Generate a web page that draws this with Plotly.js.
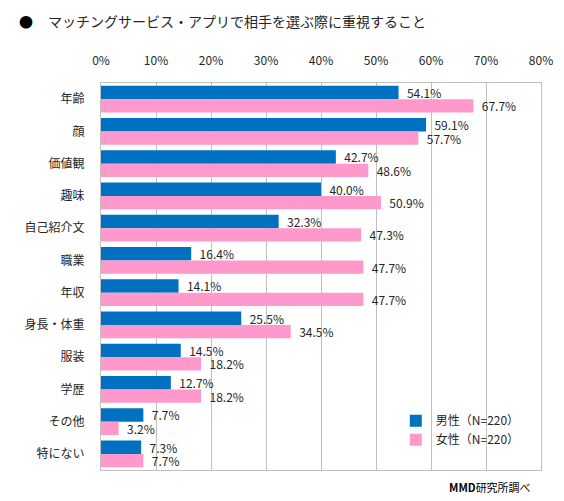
<!DOCTYPE html>
<html>
<head>
<meta charset="utf-8">
<script src="https://cdn.plot.ly/plotly-3.0.1.min.js"></script>
<style>html,body{margin:0;padding:0;background:#fff;}#chart{width:564px;height:501px;}</style>
</head>
<body>
<div id="chart"></div>
<script>
const categories = ['年齢','顔','価値観','趣味','自己紹介文','職業','年収','身長・体重','服装','学歴','その他','特にない'];
const maleValues = [54.1, 59.1, 42.7, 40.0, 32.3, 16.4, 14.1, 25.5, 14.5, 12.7, 7.7, 7.3];
const femaleValues = [67.7, 57.7, 48.6, 50.9, 47.3, 47.7, 47.7, 34.5, 18.2, 18.2, 3.2, 7.7];
const seriesNames = ['男性（N=220）', '女性（N=220）'];
const tickValues = [0, 10, 20, 30, 40, 50, 60, 70, 80];
const tickLabels = ['0%', '10%', '20%', '30%', '40%', '50%', '60%', '70%', '80%'];

const FONT = '"Noto Sans CJK JP", "Noto Sans", sans-serif';
const TXT = '#262626';
const label = v => '\u00a0\u00a0' + v.toFixed(1) + '%';

const traces = [
  {
    type: 'bar', orientation: 'h', name: seriesNames[0],
    y: categories, x: maleValues,
    marker: {color: '#0070C0'},
    text: maleValues.map(label), textposition: 'outside', constraintext: 'none',
    textfont: {family: FONT, size: 12, color: TXT},
    cliponaxis: false, hoverinfo: 'x+y'
  },
  {
    type: 'bar', orientation: 'h', name: seriesNames[1],
    y: categories, x: femaleValues,
    marker: {color: '#FF99CC'},
    text: femaleValues.map(label), textposition: 'outside', constraintext: 'none',
    textfont: {family: FONT, size: 12, color: TXT},
    cliponaxis: false, hoverinfo: 'x+y'
  }
];

const layout = {
  width: 564, height: 501,
  margin: {l: 101, r: 23, t: 83, b: 31, pad: 0},
  paper_bgcolor: '#fff', plot_bgcolor: '#fff',
  font: {family: FONT, size: 12, color: TXT},
  barmode: 'group', bargap: 0.17, bargroupgap: 0,
  showlegend: true,
  legend: {
    x: 0.670, y: 0.165, xanchor: 'left', yanchor: 'top', tracegroupgap: 0,
    bgcolor: 'rgba(0,0,0,0)', font: {family: FONT, size: 12, color: TXT}
  },
  xaxis: {
    side: 'top', range: [0, 80], tickvals: tickValues, ticktext: tickLabels,
    showgrid: true, gridcolor: '#C0C0C0', gridwidth: 1,
    zeroline: false, showline: true, linecolor: '#C0C0C0', linewidth: 1, mirror: true,
    ticks: '', ticklabelstandoff: 12,
    tickfont: {family: FONT, size: 12, color: TXT}, fixedrange: true
  },
  yaxis: {
    autorange: 'reversed', type: 'category',
    showgrid: false, zeroline: false,
    showline: true, linecolor: '#C0C0C0', linewidth: 1, mirror: true,
    ticks: '', ticklabelstandoff: 13,
    tickfont: {family: FONT, size: 12, color: TXT}, fixedrange: true
  },
  annotations: [
    {xref: 'paper', yref: 'paper', x: -0.1705, y: 1.160, xanchor: 'center', yanchor: 'middle',
     text: '●', showarrow: false, font: {family: FONT, size: 14, color: '#000'}},
    {xref: 'paper', yref: 'paper', x: -0.125, y: 1.160, xanchor: 'left', yanchor: 'middle',
     text: 'マッチングサービス・アプリで相手を選ぶ際に重視すること', showarrow: false,
     font: {family: FONT, size: 14, color: TXT}},
    {xref: 'paper', yref: 'paper', x: 0.982, y: -0.044, xanchor: 'right', yanchor: 'middle',
     text: '<b>MMD</b>研究所調べ', showarrow: false,
     font: {family: FONT, size: 11, color: '#000'}}
  ]
};

Plotly.newPlot('chart', traces, layout, {displayModeBar: false, staticPlot: true});
</script>
</body>
</html>
